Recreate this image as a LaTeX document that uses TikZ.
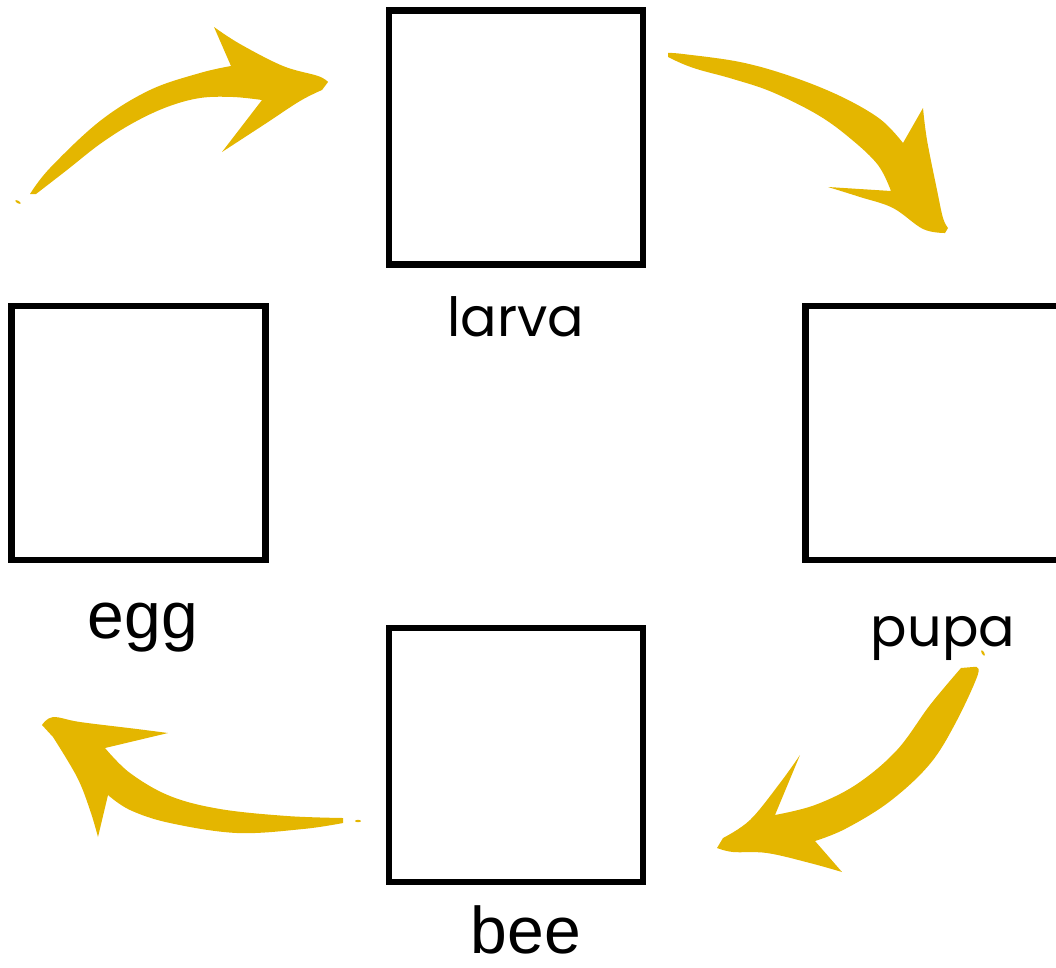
\documentclass[tikz,border=0pt]{standalone}
\usepackage{fontspec}
\setmainfont{Liberation Sans}
\newfontfamily\geofont{Poppins}
\definecolor{brush}{RGB}{228,182,0}
\begin{document}
\begin{tikzpicture}[x=1pt,y=-1pt,
  stagebox/.style={draw=black,line width=6.2pt,fill=white,minimum width=254pt,minimum height=254pt,inner sep=0pt,outer sep=0pt},
  lblA/.style={anchor=base,inner sep=0pt,font=\geofont\fontsize{54}{60}\selectfont},
  lblB/.style={anchor=base,inner sep=0pt,font=\fontsize{66}{72}\selectfont},
  brushfill/.style={fill=brush}]
\useasboundingbox (0,0) rectangle (1056,967);
\begin{scope}
\clip (0,0) rectangle (1056,967);
% boxes
\node[stagebox] (larva) at (516,137.5) {};
\node[stagebox] (egg) at (138.5,433) {};
\node[stagebox] (pupa) at (932.5,433) {};
\node[stagebox] (bee) at (516,755) {};
% labels
\node[lblA] (tlarva) at (516,336) {larva};
\node[lblB] (tegg) at (143,638) {egg};
\node[lblA] (tpupa) at (943,646) {pupa};
\node[lblB] (tbee) at (526,953) {bee};
% arrow egg -> larva
\fill[brushfill] plot[smooth,tension=0.6] coordinates {(30,194) (50,168) (100,121) (150,90) (200,73) (231,66)}
  -- plot[smooth,tension=0.6] coordinates {(214,27) (240,44) (283,66) (318,76) (328,82)}
  -- plot[smooth,tension=0.6] coordinates {(322,90) (300,101) (265,124) (222,152)}
  -- plot[smooth,tension=0.6] coordinates {(262,100) (233,97) (200,98) (167,107) (133,123) (100,144) (67,170) (36,194)}
  -- cycle;
\fill[brushfill] (18,202) ellipse[x radius=3pt,y radius=1.2pt,rotate=-30];
% arrow larva -> pupa
\fill[brushfill] plot[smooth,tension=0.6] coordinates {(668,53) (683,54) (740,62) (790,76) (840,96) (880,119) (903,143)}
  -- plot[smooth,tension=0.6] coordinates {(923,108) (927,140) (937,190) (943,218) (948,228)}
  -- plot[smooth,tension=0.6] coordinates {(945,233) (923,229) (893,208) (860,197) (828,187)}
  -- plot[smooth,tension=0.6] coordinates {(891,191) (878,165) (851,139) (818,115) (772,92) (733,79) (700,70) (683,64) (668,57)}
  -- cycle;
% arrow pupa -> bee
\fill[brushfill] plot[smooth,tension=0.6] coordinates {(973,667) (978,674) (955,724) (929,765) (889,802) (845,829) (815,841)}
  -- plot[smooth,tension=0.6] coordinates {(842,872) (810,863) (767,853) (733,852) (717,848)}
  -- plot[smooth,tension=0.6] coordinates {(723,838) (750,820) (780,783) (800,755)}
  -- plot[smooth,tension=0.6] coordinates {(775,815) (815,805) (857,784) (897,750) (930,705) (961,668)}
  -- cycle;
\fill[brushfill] (983,653) ellipse[x radius=1.2pt,y radius=3pt,rotate=30];
% arrow bee -> egg
\fill[brushfill] plot[smooth,tension=0.6] coordinates {(343,818) (287,816) (220,809) (170,796) (130,773) (105,748)}
  -- plot[smooth,tension=0.6] coordinates {(168,733) (137,729) (80,722) (53,717) (42,725)}
  -- plot[smooth,tension=0.6] coordinates {(53,737) (77,777) (90,810) (98,837)}
  -- plot[smooth,tension=0.6] coordinates {(108,795) (130,810) (170,823) (237,833) (303,829) (343,823)}
  -- cycle;
\fill[brushfill] (358,821) ellipse[x radius=3pt,y radius=1.2pt];
\end{scope}
\end{tikzpicture}
\end{document}
